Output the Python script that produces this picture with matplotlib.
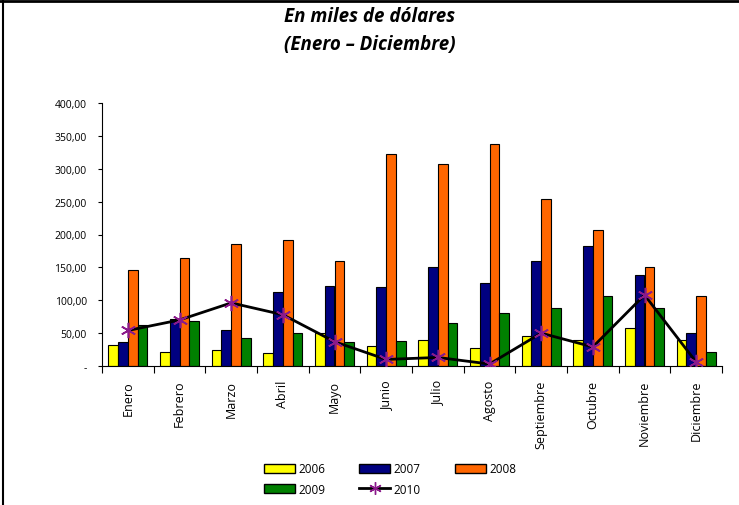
import matplotlib
matplotlib.use("Agg")
import matplotlib.pyplot as plt
import numpy as np
from matplotlib.lines import Line2D
from matplotlib.patches import Patch

months = ["Enero", "Febrero", "Marzo", "Abril", "Mayo", "Junio", "Julio",
          "Agosto", "Septiembre", "Octubre", "Noviembre", "Diciembre"]
v2006 = [32, 22, 24, 20, 50, 30, 40, 28, 46, 40, 58, 40]
v2007 = [36, 71, 55, 112, 122, 120, 150, 126, 160, 182, 138, 50]
v2008 = [146, 164, 186, 192, 160, 323, 307, 337, 254, 207, 151, 106]
v2009 = [62, 68, 42, 50, 36, 38, 66, 80, 88, 106, 88, 22]
v2010 = [54, 70, 96, 78, 37, 10, 13, 3, 50, 29, 108, 6]
yticks = [0, 50, 100, 150, 200, 250, 300, 350, 400]
ytick_labels = ["-", "50,00", "100,00", "150,00", "200,00", "250,00",
                "300,00", "350,00", "400,00"]

plt.rcParams['font.family'] = ['Open Sans', 'DejaVu Sans']

fig = plt.figure(figsize=(7.39, 5.06), dpi=100)
ax = fig.add_axes([102/739, 1-367/506, 620/739, 263/506])

x = np.arange(len(months))
w = 0.19
colors = ["#FFFF00", "#000080", "#FF6600", "#008000"]
series = [v2006, v2007, v2008, v2009]
for i, (s, c) in enumerate(zip(series, colors)):
    ax.bar(x + (i - 1.5) * w, s, width=w, color=c, edgecolor="black",
           linewidth=0.8, zorder=2)

ax.plot(x, v2010, color="black", linewidth=2, zorder=3)
ax.plot(x, v2010, linestyle="none", marker=(6, 2, 0), markersize=11,
        markeredgecolor="#8B1A8B", markeredgewidth=1.2, zorder=4)

ax.set_xlim(-0.5, len(months) - 0.5)
ax.set_ylim(0, 400)
ax.set_yticks(yticks)
ax.set_yticklabels(ytick_labels, fontsize=7.5)
ax.tick_params(axis="y", direction="out", length=3, width=0.8, pad=8)

ax.set_xticks(x)
ax.set_xticklabels(months, rotation=90, fontsize=9, va="top")
ax.tick_params(axis="x", length=0, pad=10)
ax.set_xticks(np.arange(-0.5, len(months) + 0.5, 1), minor=True)
ax.tick_params(axis="x", which="minor", direction="out", length=5, width=0.8)

for sp in ["top", "right"]:
    ax.spines[sp].set_visible(False)
ax.spines["left"].set_linewidth(0.8)
ax.spines["bottom"].set_linewidth(0.8)

fig.text(0.5, 1-17/506, "En miles de dólares", ha="center", va="center",
         fontsize=13.5, fontweight="bold", fontstyle="italic")
fig.text(0.5, 1-45/506, "(Enero \u2013 Diciembre)", ha="center", va="center",
         fontsize=13.5, fontweight="bold", fontstyle="italic")

h06 = Patch(facecolor=colors[0], edgecolor="black", label="2006")
h07 = Patch(facecolor=colors[1], edgecolor="black", label="2007")
h08 = Patch(facecolor=colors[2], edgecolor="black", label="2008")
h09 = Patch(facecolor=colors[3], edgecolor="black", label="2009")
h10 = Line2D([0], [0], color="black", linewidth=2, marker=(6, 2, 0),
             markersize=9, markeredgecolor="#8B1A8B", label="2010")
handles = [h06, h09, h07, h10, h08]
leg = fig.legend(handles=handles, loc="center", ncol=3,
                 bbox_to_anchor=(390/739, 1-480/506), frameon=False,
                 fontsize=8.5, handlelength=2.6, handleheight=0.8,
                 columnspacing=2.9, labelspacing=0.6, handletextpad=0.3)

# figure border lines (top and left)
fig.add_artist(Line2D([0, 1], [1-2/506, 1-2/506], color="black", linewidth=2,
                      transform=fig.transFigure))
fig.add_artist(Line2D([2.5/739, 2.5/739], [0, 1], color="black", linewidth=1.5,
                      transform=fig.transFigure))

fig.savefig("out.png", dpi=100)
